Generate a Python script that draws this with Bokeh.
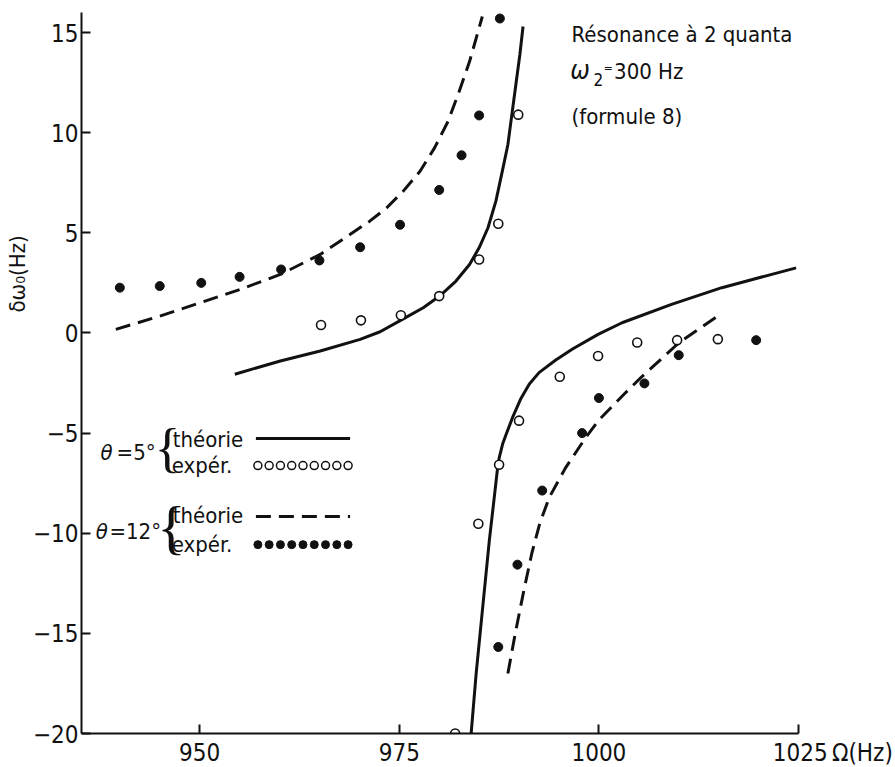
import numpy as np
from bokeh.plotting import figure
from bokeh.models import Label, Range1d, FixedTicker, Title
from bokeh.embed import file_html
from bokeh.resources import INLINE

# Two-quantum resonance: frequency shift versus Omega
# theta = 5 deg, theory (two branches)
th5_up_x = [954.4, 960.1, 965.1, 970.1, 972.6, 975.5, 978.0, 980.05, 982.1, 983.8, 985.0, 986.1, 987.1,
            987.9, 988.6, 989.1, 989.6, 990.1, 990.5]
th5_up_y = [-2.06, -1.40, -0.90, -0.32, 0.06, 0.70, 1.26, 1.84, 2.59, 3.42, 4.25, 5.24, 6.58,
            8.07, 9.40, 10.90, 12.39, 13.89, 15.30]
th5_lo_x = [984.0, 984.63, 985.45, 986.28, 986.85, 987.32, 987.53, 987.94, 988.4, 989.19, 990.2,
            991.27, 992.5, 994.6, 996.7, 999.9, 1002.9, 1009.1, 1015.4, 1024.7]
th5_lo_y = [-20.0, -17.0, -13.69, -10.36, -8.37, -6.71, -6.21, -5.55, -5.05, -4.22, -3.30,
            -2.56, -1.98, -1.35, -0.80, -0.07, 0.51, 1.43, 2.26, 3.25]

# theta = 12 deg, theory (two branches)
th12_up_x = [939.5, 945.1, 950.1, 955.1, 960.1, 965.1, 971.3, 973.4, 975.5, 977.6, 979.4, 981.1,
             982.5, 983.8, 985.4]
th12_up_y = [0.18, 0.85, 1.51, 2.18, 2.92, 3.92, 5.58, 6.24, 7.08, 8.07, 9.23, 10.56,
             12.06, 13.55, 15.8]
th12_lo_x = [988.6, 989.6, 990.6, 991.6, 992.6, 993.8, 995.8, 998.3, 1000.0, 1003.3, 1005.2, 1010.0, 1015.2]
th12_lo_y = [-17.0, -14.85, -12.86, -11.0, -9.5, -8.2, -6.75, -5.25, -4.35, -3.0, -2.25, -0.5, 0.93]

# measurements
exp5_x = [965.2, 970.2, 975.2, 980.0, 985.0, 987.4, 989.9, 982.0, 984.9, 987.5, 990.0, 995.1, 999.9, 1004.8, 1009.8, 1014.9]
exp5_y = [0.4, 0.63, 0.88, 1.84, 3.67, 5.45, 10.9, -20.0, -9.53, -6.58, -4.38, -2.19, -1.15, -0.48, -0.36, -0.31]
exp12_x = [940.0, 945.0, 950.2, 955.0, 960.2, 965.0, 970.1, 975.1, 980.0, 982.8, 985.0, 987.6,
           987.4, 989.8, 992.9, 997.9, 1000.0, 1005.7, 1010.0, 1019.7]
exp12_y = [2.26, 2.34, 2.5, 2.8, 3.17, 3.62, 4.28, 5.4, 7.14, 8.87, 10.86, 15.7,
           -15.68, -11.57, -7.87, -5.0, -3.25, -2.52, -1.11, -0.36]

x_ticks = [950, 975, 1000, 1025]
y_ticks = [-20, -15, -10, -5, 0, 5, 10, 15]
NB = "\u00a0"
# the last tick also carries the unit of the horizontal axis; the leading
# no-break spaces keep "1025" itself centred on its tick
x_labels = {950: "950", 975: "975", 1000: "1000", 1025: NB * 10 + "1025" + "\u2009" + "Ω(Hz)"}

FONT = "DejaVu Sans Condensed, Roboto, sans-serif"
BRACE_FONT = "Liberation Serif, serif"
INK = "#111111"
FS = "24px"
TS = "22px"

p = figure(frame_width=717, frame_height=721, output_backend="svg", toolbar_location=None,
           x_range=Range1d(935.2, 1025), y_range=Range1d(-20, 16.0),
           min_border_left=81, min_border_right=97, min_border_top=12, min_border_bottom=34)
p.outline_line_color = None
p.grid.grid_line_color = None
p.background_fill_color = "white"
p.border_fill_color = "white"

for ax in (p.xaxis[0], p.yaxis[0]):
    ax.axis_line_width = 2
    ax.axis_line_color = INK
    ax.major_tick_line_width = 2
    ax.major_tick_line_color = INK
    ax.major_tick_in = 9
    ax.major_tick_out = 0
    ax.minor_tick_line_color = None
    ax.major_label_text_font = FONT
    ax.major_label_text_font_size = FS
    ax.major_label_text_color = INK
    ax.major_label_standoff = 5
p.yaxis.major_label_standoff = 3
p.xaxis.ticker = FixedTicker(ticks=x_ticks)
p.yaxis.ticker = FixedTicker(ticks=y_ticks)
p.xaxis.major_label_overrides = x_labels

# vertical axis title, set in the left margin
p.add_layout(Title(text="δω₀(Hz)", align="left", offset=421, text_font=FONT,
                   text_font_size="22px", text_font_style="normal", text_color=INK,
                   standoff=0), "left")

# theory curves
for xs, ys in ((th5_up_x, th5_up_y), (th5_lo_x, th5_lo_y)):
    p.line(xs, ys, line_color=INK, line_width=3)
for xs, ys in ((th12_up_x, th12_up_y), (th12_lo_x, th12_lo_y)):
    p.line(xs, ys, line_color=INK, line_width=3, line_dash="15 8")

# measured points
p.scatter(exp5_x, exp5_y, marker="circle", size=9, fill_color="white", line_color=INK, line_width=1.6)
p.scatter(exp12_x, exp12_y, marker="circle", size=9, fill_color=INK, line_color=INK)


def txt(x, y, s, size=TS, style="normal", font=FONT):
    p.add_layout(Label(x=x, y=y, text=s, text_font=font, text_font_size=size,
                       text_font_style=style, text_color=INK,
                       text_baseline="alphabetic", text_align="left"))


# annotation, top right
txt(996.58, 14.9, "Résonance à 2 quanta")
txt(996.4, 13.15, "ω", size="26px", style="italic")
txt(999.34, 12.64, "2", size="17px")
txt(1000.6, 13.24, "=", size="12px")
txt(1001.9, 13.07, "300 Hz")
txt(996.58, 10.81, "(formule 8)")

# key
key_x = np.linspace(957.04, 968.84, 2)
key_pts = np.linspace(957.29, 968.59, 9)

txt(937.58, -5.97, "θ", style="italic")
txt(939.59, -5.97, "=5°")
txt(944.35, -5.75, "{", size="54px", font=BRACE_FONT)
txt(946.62, -5.30, "théorie")
txt(946.5, -6.60, "expér.")
p.line(key_x, [-5.27, -5.27], line_color=INK, line_width=3)
p.scatter(key_pts, [-6.62] * 9, marker="circle", size=8, fill_color="white", line_color=INK, line_width=1.5)

txt(937.0, -9.93, "θ", style="italic")
txt(938.7, -9.93, "=12°")
txt(944.65, -9.70, "{", size="60px", font=BRACE_FONT)
txt(946.62, -9.10, "théorie")
txt(946.5, -10.54, "expér.")
p.line(key_x, [-9.17, -9.17], line_color=INK, line_width=3, line_dash="15 8")
p.scatter(key_pts, [-10.57] * 9, marker="circle", size=8, fill_color=INK, line_color=INK)

open("out.html", "w").write(file_html(p, INLINE))
